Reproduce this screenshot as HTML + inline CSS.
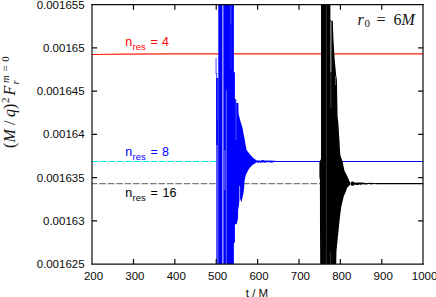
<!DOCTYPE html>
<html>
<head>
<meta charset="utf-8">
<title>plot</title>
<style>
html,body{margin:0;padding:0;background:#fff;}
body{width:436px;height:297px;overflow:hidden;position:relative;font-family:"Liberation Sans",sans-serif;}
svg{position:absolute;left:0;top:0;display:block;}
text{font-family:"Liberation Sans",sans-serif;}
</style>
</head>
<body>
<svg width="436" height="297" viewBox="0 0 436 297">
<rect x="0" y="0" width="436" height="297" fill="#fff"/>
<line x1="92.10" y1="161.50" x2="217" y2="161.50" stroke="#00e5ff" stroke-width="1.15" stroke-dasharray="6.45,2.0" stroke-dashoffset="0.45"/>
<line x1="92.10" y1="183.65" x2="320.5" y2="183.65" stroke="#7d7d7d" stroke-width="1.15" stroke-dasharray="6.45,2.0" stroke-dashoffset="1.2"/>
<polyline points="92.10,54.5 125,54.05 170,53.95 215,53.87 423.15,53.87" fill="none" stroke="#ff1e0a" stroke-width="1.25"/>
<rect x="215.6" y="58" width="0.9" height="16" fill="#3535ff"/>
<rect x="216.25" y="73" width="0.9" height="6" fill="#3535ff"/>
<rect x="216.0" y="78" width="2.5" height="67" fill="#1010ff"/>
<rect x="216.0" y="145" width="2.5" height="119.0" fill="#5252ff"/>
<polygon fill="#0000ff" points="218.3,4.7 233.9,4.7 233.9,72.0 234.9,72.5 234.9,99.0 236.3,99.4 236.3,103.0 238.3,103.0 238.6,114.0 240.4,121.0 242.5,127.8 245.0,141.6 246.6,150.0 249.2,153.6 252.8,157.6 256.3,160.2 258.5,161.0 258.5,161.9 256.3,162.6 252.1,165.2 248.7,169.3 245.9,174.8 244.6,180.3 244.1,188.0 243.5,193.0 242.4,198.0 241.3,202.5 240.4,199.0 239.4,200.0 239.0,205.0 238.1,210.0 238.0,218.0 236.8,224.0 234.9,224.5 234.9,242.5 233.9,243.0 233.9,264.0 218.3,264.0"/>
<polygon fill="#0000ff" points="257.5,160.5 258.4,160.4 259.3,160.2 260.2,160.9 261.1,160.6 262.0,159.9 262.9,160.1 263.8,160.3 264.7,160.4 265.6,160.5 266.5,160.4 267.4,160.4 268.3,160.8 269.2,160.4 270.1,160.5 271.0,160.6 271.9,160.8 272.8,160.8 273.7,160.6 274.6,161.1 275.5,160.6 275.5,162.1 274.6,162.0 273.7,161.9 272.8,162.5 271.9,162.4 271.0,162.6 270.1,162.6 269.2,162.3 268.3,162.0 267.4,162.5 266.5,162.1 265.6,162.7 264.7,162.8 263.8,162.2 262.9,162.5 262.0,162.6 261.1,162.4 260.2,163.0 259.3,162.2 258.4,162.8 257.5,162.8"/>
<line x1="275" y1="161.50" x2="423.15" y2="161.50" stroke="#0000ff" stroke-width="1.2"/>
<g stroke="#fff">
<line x1="222.8" y1="4.7" x2="222.8" y2="264.0" stroke-width="1.6" stroke-opacity="0.55"/>
<line x1="226.35" y1="90" x2="226.35" y2="264.0" stroke-width="0.8" stroke-opacity="0.5"/>
<line x1="224.8" y1="150" x2="224.8" y2="190" stroke-width="0.8" stroke-opacity="0.5"/>
<line x1="230.9" y1="5" x2="230.9" y2="24" stroke-width="0.7" stroke-opacity="0.5"/>
<line x1="230.9" y1="24" x2="230.9" y2="70" stroke-width="0.6" stroke-opacity="0.25"/>
<line x1="217.8" y1="76" x2="217.8" y2="120" stroke-width="0.5" stroke-opacity="0.3"/>
<line x1="236.0" y1="100" x2="236.0" y2="140" stroke-width="0.6" stroke-opacity="0.5"/>
<line x1="239.6" y1="186" x2="239.6" y2="200" stroke-width="0.8" stroke-opacity="0.8"/>
</g>
<polygon fill="#000" points="321.0,4.7 330.4,4.7 330.4,20.0 331.4,20.7 332.8,20.7 333.4,38.0 334.6,58.7 336.2,75.2 336.9,80.0 337.6,117.0 338.3,122.3 340.3,155.0 342.4,161.0 344.5,170.7 347.9,177.6 349.3,181.0 350.2,182.4 350.2,184.4 349.3,185.6 347.0,188.0 346.1,191.0 343.8,196.3 341.4,205.9 340.1,215.6 338.7,229.0 337.6,239.8 336.5,250.8 336.2,264.0 320.2,264.0 320.0,226.0 319.9,180.0 319.4,177.0 319.4,162.0 321.0,159.0"/>
<ellipse cx="352.6" cy="183.65" rx="2.1" ry="2.2" fill="#000"/>
<polygon fill="#000" points="354.0,182.5 354.9,182.7 355.8,182.8 356.7,182.6 357.6,182.6 358.5,182.4 359.4,182.6 360.3,182.5 361.2,182.5 362.1,182.6 363.0,182.6 363.9,183.0 364.8,182.6 365.7,183.2 366.6,183.0 367.5,183.1 368.4,182.7 369.3,182.9 370.2,182.8 371.1,182.8 372.0,183.0 372.9,183.1 373.8,183.0 374.7,183.2 375.6,183.0 376.5,183.3 376.5,184.4 375.6,184.0 374.7,184.2 373.8,184.0 372.9,184.0 372.0,184.6 371.1,184.6 370.2,184.2 369.3,184.1 368.4,184.1 367.5,184.6 366.6,184.2 365.7,184.6 364.8,184.8 363.9,184.1 363.0,184.5 362.1,184.3 361.2,184.6 360.3,184.9 359.4,184.3 358.5,185.0 357.6,184.9 356.7,184.9 355.8,184.7 354.9,184.5 354.0,184.5"/>
<line x1="376" y1="183.65" x2="423.15" y2="183.65" stroke="#000" stroke-width="1.2"/>
<g stroke="#fff">
<line x1="326.4" y1="4.7" x2="326.4" y2="264.0" stroke-width="0.9" stroke-opacity="0.2"/>
<line x1="330.9" y1="21" x2="330.9" y2="72" stroke-width="0.9" stroke-opacity="0.85"/>
<line x1="330.8" y1="72" x2="330.8" y2="108" stroke-width="0.7" stroke-opacity="0.35"/>
<line x1="335.5" y1="76" x2="335.5" y2="85" stroke-width="0.7" stroke-opacity="0.5"/>
<line x1="330.6" y1="252" x2="330.6" y2="264.0" stroke-width="0.7" stroke-opacity="0.3"/>
</g>
<path d="M92.00 4.10V264.60 M423.00 4.10V264.60" fill="none" stroke="#0c0c0c" stroke-width="1.2"/>
<path d="M91.50 4.70H423.75 M91.50 264.00H423.75" fill="none" stroke="#0c0c0c" stroke-width="1.25"/>
<path d="M133.48 264.00v-5.0 M133.48 4.70v5.0 M174.86 264.00v-5.0 M174.86 4.70v5.0 M216.24 264.00v-5.0 M216.24 4.70v5.0 M257.62 264.00v-5.0 M257.62 4.70v5.0 M299.01 264.00v-5.0 M299.01 4.70v5.0 M340.39 264.00v-5.0 M340.39 4.70v5.0 M381.77 264.00v-5.0 M381.77 4.70v5.0 M92.10 47.92h5.0 M423.15 47.92h-5.0 M92.10 91.13h5.0 M423.15 91.13h-5.0 M92.10 134.35h5.0 M423.15 134.35h-5.0 M92.10 177.57h5.0 M423.15 177.57h-5.0 M92.10 220.78h5.0 M423.15 220.78h-5.0" stroke="#0c0c0c" stroke-width="1.2" fill="none"/>
<g fill="#0a0a0a" font-size="11.5" text-anchor="end">
<text x="84.6" y="8.65">0.001655</text>
<text x="84.6" y="51.87">0.00165</text>
<text x="84.6" y="95.08">0.001645</text>
<text x="84.6" y="138.3">0.00164</text>
<text x="84.6" y="181.52">0.001635</text>
<text x="84.6" y="224.73">0.00163</text>
<text x="84.6" y="267.95">0.001625</text>
</g>
<g fill="#0a0a0a" font-size="11.5" text-anchor="middle">
<text x="93.5" y="279.8">200</text>
<text x="134.9" y="279.8">300</text>
<text x="176.3" y="279.8">400</text>
<text x="217.6" y="279.8">500</text>
<text x="259.0" y="279.8">600</text>
<text x="300.4" y="279.8">700</text>
<text x="341.8" y="279.8">800</text>
<text x="383.2" y="279.8">900</text>
<text x="424.6" y="279.8">1000</text>
<text x="257" y="297">t / M</text>
</g>
<text fill="#ff0000" font-size="12.5"><tspan x="125.3" y="46.1">n</tspan><tspan x="132.6" y="50" font-size="9.4">res</tspan><tspan x="150.5" y="46.1">=</tspan><tspan x="162" y="46.1">4</tspan></text>
<text fill="#0000ff" font-size="12.5"><tspan x="125.3" y="155.6">n</tspan><tspan x="132.6" y="159.5" font-size="9.4">res</tspan><tspan x="150.5" y="155.6">=</tspan><tspan x="162" y="155.6">8</tspan></text>
<text fill="#000000" font-size="12.5"><tspan x="125.3" y="197">n</tspan><tspan x="132.6" y="200.9" font-size="9.4">res</tspan><tspan x="150.5" y="197">=</tspan><tspan x="162.5" y="197">16</tspan></text>
<text fill="#111" font-size="16" style="font-family:'Liberation Serif',serif"><tspan x="357.5" y="24.9" font-style="italic">r</tspan><tspan x="364.5" y="27.4" font-size="11">0</tspan><tspan x="376.5" y="24.9">=</tspan><tspan x="393.5" y="24.9">6</tspan><tspan x="401.5" y="24.9" font-style="italic">M</tspan></text>
<g transform="translate(14.7,148) rotate(-90)">
<text fill="#111" font-size="16" style="font-family:'Liberation Serif',serif"><tspan x="0" y="0">(</tspan><tspan x="5.5" y="0" font-style="italic">M</tspan><tspan x="23" y="0">/</tspan><tspan x="31" y="0" font-style="italic">q</tspan><tspan x="39" y="0">)</tspan><tspan x="45" y="-6" font-size="11">2</tspan><tspan x="52.5" y="0" font-style="italic">F</tspan><tspan x="63.5" y="4" font-size="11" font-style="italic">r</tspan><tspan x="65" y="-5.8" font-size="11" font-style="italic">m</tspan><tspan x="76.5" y="-5.8" font-size="11">=</tspan><tspan x="86.3" y="-5.8" font-size="11">0</tspan></text>
</g>
</svg>
</body>
</html>
